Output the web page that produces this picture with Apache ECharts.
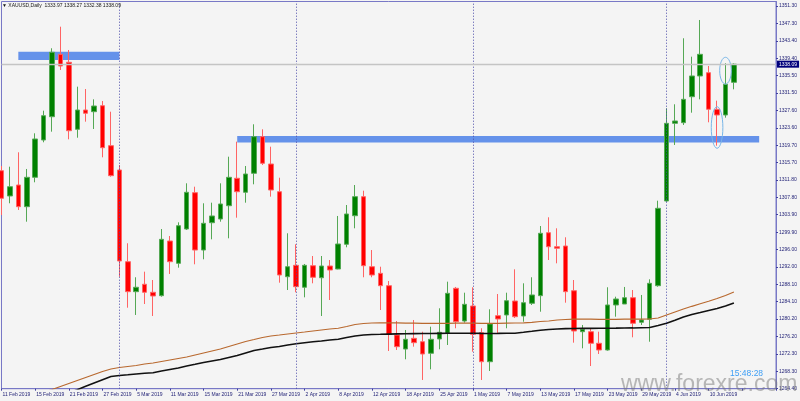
<!DOCTYPE html>
<html><head><meta charset="utf-8">
<script src="https://cdn.jsdelivr.net/npm/echarts@6/dist/echarts.min.js"></script>
<style>html,body{margin:0;padding:0;background:#f4f4f4}#c{width:800px;height:401px}</style>
</head><body><div id="c"></div>
<script>
// ---------- data ----------
const dates = [
'11 Feb 2019','12 Feb 2019','13 Feb 2019','14 Feb 2019','15 Feb 2019',
'18 Feb 2019','19 Feb 2019','20 Feb 2019','21 Feb 2019','22 Feb 2019',
'25 Feb 2019','26 Feb 2019','27 Feb 2019','28 Feb 2019','1 Mar 2019',
'4 Mar 2019','5 Mar 2019','6 Mar 2019','7 Mar 2019','8 Mar 2019',
'11 Mar 2019','12 Mar 2019','13 Mar 2019','14 Mar 2019','15 Mar 2019',
'18 Mar 2019','19 Mar 2019','20 Mar 2019','21 Mar 2019','22 Mar 2019',
'25 Mar 2019','26 Mar 2019','27 Mar 2019','28 Mar 2019','29 Mar 2019',
'1 Apr 2019','2 Apr 2019','3 Apr 2019','4 Apr 2019','5 Apr 2019',
'8 Apr 2019','9 Apr 2019','10 Apr 2019','11 Apr 2019','12 Apr 2019',
'15 Apr 2019','16 Apr 2019','17 Apr 2019','18 Apr 2019',
'22 Apr 2019','23 Apr 2019','24 Apr 2019','25 Apr 2019','26 Apr 2019',
'29 Apr 2019','30 Apr 2019','1 May 2019','2 May 2019','3 May 2019',
'6 May 2019','7 May 2019','8 May 2019','9 May 2019','10 May 2019',
'13 May 2019','14 May 2019','15 May 2019','16 May 2019','17 May 2019',
'20 May 2019','21 May 2019','22 May 2019','23 May 2019','24 May 2019',
'27 May 2019','28 May 2019','29 May 2019','30 May 2019','31 May 2019',
'3 Jun 2019','4 Jun 2019','5 Jun 2019','6 Jun 2019','7 Jun 2019',
'10 Jun 2019','11 Jun 2019','12 Jun 2019','13 Jun 2019'];
const futureSlots = ['', '', '', '', ''];

const opens = [1313.90,1308.16,1310.65,1305.73,1312.40,1320.87,1326.16,1340.33,1338.52,1323.30,
1327.68,1327.30,1328.66,1319.58,1314.06,1293.24,1286.43,1288.11,1286.29,1285.52,
1297.94,1292.87,1300.66,1308.91,1295.89,1302.09,1302.93,1305.95,1312.18,1309.00,
1313.31,1321.62,1315.42,1309.13,1289.83,1292.42,1287.43,1292.33,1289.60,1292.26,
1291.58,1297.19,1303.68,1308.00,1292.10,1290.60,1287.79,1276.59,1273.41,1275.84,
1275.07,1272.44,1275.69,1276.98,1287.20,1279.77,1283.18,1277.12,1270.53,1280.98,
1281.14,1284.31,1280.91,1283.79,1285.52,1299.82,1296.64,1296.80,1286.65,1277.34,
1277.34,1274.71,1273.19,1283.41,1283.63,1285.06,1279.48,1280.16,1287.79,1307.02,
1324.66,1324.80,1330.70,1335.41,1336.15,1327.84,1326.55,1333.97];
const closes = [1307.63,1310.27,1305.73,1312.40,1321.10,1326.39,1340.79,1337.68,1322.98,1327.68,
1326.94,1328.59,1319.12,1312.77,1293.40,1286.43,1287.43,1286.29,1285.45,1298.32,
1293.24,1301.41,1309.00,1295.89,1301.96,1303.62,1306.34,1312.40,1309.13,1313.15,
1321.62,1315.58,1309.52,1290.22,1292.10,1287.56,1292.42,1289.70,1292.26,1291.35,
1297.26,1304.07,1308.00,1292.33,1290.22,1287.79,1276.75,1273.94,1275.62,1274.85,
1272.28,1275.62,1277.21,1286.06,1279.61,1283.56,1276.75,1270.53,1279.09,1280.23,
1284.38,1280.75,1283.93,1285.68,1299.69,1296.64,1296.28,1286.43,1277.50,1277.89,
1274.71,1273.19,1283.41,1284.77,1285.06,1279.25,1280.00,1288.33,1305.36,1324.66,
1325.19,1330.11,1335.41,1340.33,1327.84,1326.55,1333.52,1338.09];
const lows = [1303.84,1306.50,1304.98,1302.32,1311.27,1320.35,1322.76,1336.77,1321.03,1321.39,
1325.03,1323.37,1316.94,1312.54,1289.83,1282.79,1281.14,1283.63,1280.91,1285.29,
1290.45,1291.88,1300.44,1292.65,1293.78,1298.32,1302.32,1298.55,1303.23,1306.64,
1310.81,1315.20,1308.00,1288.47,1286.81,1286.29,1285.15,1288.33,1280.91,1284.54,
1291.51,1296.51,1300.82,1289.70,1289.70,1282.27,1272.96,1273.19,1271.08,1273.94,
1266.38,1268.80,1273.35,1274.32,1278.12,1279.39,1272.80,1266.38,1268.42,1276.98,
1278.12,1280.45,1279.61,1283.41,1281.88,1293.62,1292.87,1283.93,1274.85,1273.57,
1269.55,1272.28,1273.03,1280.75,1283.63,1276.07,1278.87,1275.07,1287.56,1306.86,
1319.74,1324.28,1327.07,1330.11,1324.89,1319.58,1325.94,1332.38];
const highs = [1314.97,1314.81,1318.08,1314.29,1322.39,1327.53,1341.70,1346.60,1341.31,1332.98,
1332.45,1330.11,1329.73,1327.30,1315.20,1297.42,1289.70,1290.97,1289.08,1300.66,
1299.07,1302.18,1311.04,1310.27,1306.50,1306.64,1311.04,1317.08,1320.49,1314.97,
1324.44,1323.30,1319.35,1312.31,1299.69,1297.19,1292.72,1294.53,1294.53,1293.62,
1303.62,1306.11,1310.65,1309.36,1295.89,1292.10,1288.86,1279.77,1277.73,1280.00,
1277.34,1278.48,1282.66,1288.70,1287.50,1286.20,1287.43,1278.12,1282.43,1285.90,
1286.20,1291.51,1288.33,1289.70,1301.34,1303.32,1300.82,1298.78,1289.08,1278.87,
1278.12,1277.34,1287.43,1285.29,1287.50,1286.81,1285.68,1289.24,1307.09,1328.07,
1328.98,1343.97,1339.79,1348.12,1337.68,1329.80,1338.29,1338.27];

const maBrown = [1260.25,1260.93,1261.61,1262.29,1262.90,1263.58,1264.22,1264.90,1265.58,1266.26,
1266.94,1267.62,1268.31,1268.87,1269.21,1269.44,1269.67,1270.01,1270.24,1270.58,
1270.92,1271.26,1271.60,1272.05,1272.51,1272.96,1273.41,1273.98,1274.55,1275.12,
1275.57,1276.03,1276.37,1276.59,1276.82,1277.05,1277.27,1277.50,1277.73,1277.96,
1278.12,1278.52,1278.98,1279.21,1279.32,1279.36,1279.38,1279.35,1279.30,1279.28,
1279.25,1279.22,1279.22,1279.25,1279.30,1279.32,1279.30,1279.25,1279.22,1279.25,
1279.30,1279.32,1279.36,1279.48,1279.66,1279.77,1280.00,1280.11,1280.18,1280.20,
1280.18,1280.16,1280.15,1280.16,1280.18,1280.20,1280.22,1280.23,1280.45,1281.14,
1281.82,1282.50,1283.11,1283.68,1284.25,1284.88,1285.56,1286.36];
const maBlack = [1257.29,1258.07,1258.88,1259.65,1260.40,1261.15,1261.93,1262.74,1263.42,1264.17,
1264.94,1265.69,1266.44,1267.17,1267.40,1267.56,1267.74,1267.90,1268.03,1268.42,
1268.76,1269.10,1269.55,1269.94,1270.35,1270.69,1271.03,1271.49,1271.94,1272.51,
1273.07,1273.41,1273.76,1273.98,1274.32,1274.62,1274.85,1275.05,1275.23,1275.46,
1275.62,1276.03,1276.37,1276.59,1276.71,1276.75,1276.80,1276.85,1276.88,1276.90,
1276.92,1276.94,1276.96,1276.98,1277.00,1277.00,1276.98,1276.96,1276.95,1276.96,
1276.98,1277.00,1277.21,1277.43,1277.66,1277.84,1277.96,1278.05,1278.08,1278.10,
1278.10,1278.12,1278.14,1278.15,1278.18,1278.20,1278.25,1278.30,1278.75,1279.25,
1279.93,1280.68,1281.25,1281.70,1282.16,1282.61,1283.18,1283.86];

// horizontal zones drawn on the chart: [start index, end index, top price, bottom price]
const zoneStart = [2, 28];
const zoneEnd = [14, 90];
const zoneTop = [1340.92, 1321.78];
const zoneBottom = [1339.04, 1320.30];
// ellipse annotations: [index, top price, bottom price]
const ellipseIdx = [85, 86];
const ellipseTop = [1328.43, 1339.65];
const ellipseBottom = [1318.99, 1333.59];

const monthSeparators = ['1 Mar 2019', '1 Apr 2019', '1 May 2019', '3 Jun 2019'];
const titleSymbol = 'XAUUSD,Daily';
const titleValues = ['1333.97', '1338.27', '1332.38', '1338.09'];
const bidPrice = 1338.09;
const yMin = 1264.40, yMax = 1352.32, yStep = 3.95;
const timerText = '15:48:28';
const watermark = 'www.forexre.com';

// ---------- chart ----------
const FONT = '"Liberation Sans", Arial, sans-serif';
const AXIS_COL = '#7878c6';
const LABEL_COL = '#1e1e74';
const cats = dates.concat(futureSlots);
const candleData = dates.map((d, i) => [opens[i], closes[i], lows[i], highs[i]]);

const chart = echarts.init(document.getElementById('c'), null, {renderer: 'canvas'});
const option = {
  backgroundColor: '#f4f4f4',
  animation: false,
  title: {
    text: '\u25BC ' + titleSymbol + '  ' + titleValues.join(' '),
    left: 2, top: 3, padding: 0,
    textStyle: {fontSize: 5, fontWeight: 'normal', color: '#151515', fontFamily: FONT}
  },
  grid: {
    left: 1.5, top: 1.5, right: 24, bottom: 12.3,
    outerBoundsMode: 'none',
    show: true, borderColor: AXIS_COL, borderWidth: 1, backgroundColor: 'transparent'
  },
  xAxis: {
    type: 'category', data: cats, boundaryGap: false,
    axisLine: {show: true, lineStyle: {color: AXIS_COL, width: 1}},
    axisTick: {show: true, interval: 3, length: 2, lineStyle: {color: '#4040a0'}},
    axisLabel: {interval: 3, align: 'left', fontSize: 5, color: LABEL_COL, margin: 3.5, fontFamily: FONT, padding: [0, 0, 0, 1]},
    splitLine: {show: false}
  },
  yAxis: {
    type: 'value', position: 'right', min: yMin, max: yMax, interval: yStep,
    axisLine: {show: true, lineStyle: {color: AXIS_COL, width: 1}},
    axisTick: {show: true, length: 2, lineStyle: {color: '#4040a0'}},
    axisLabel: {
      fontSize: 5, color: LABEL_COL, margin: 3, fontFamily: FONT, showMaxLabel: false,
      formatter: v => (Math.floor(v * 10 + 1e-6) / 10).toFixed(2)
    },
    splitLine: {show: false}
  },
  graphic: [
    {type: 'text', left: 621, top: 373.5, z: 100, silent: true,
     style: {text: watermark, font: '23px "Liberation Sans", Arial', fill: 'rgba(120,120,120,0.5)'}},
    {type: 'text', left: 730, top: 369.5, z: 100, silent: true,
     style: {text: timerText, font: '8.5px "Liberation Sans", Arial', fill: '#3f9ff5'}}
  ],
  series: [
    {
      name: 'objects', type: 'line', data: [], z: 1, silent: true,
      markArea: {
        silent: true,
        itemStyle: {color: '#6592ea', opacity: 1},
        data: zoneStart.map((s, i) => [
          {xAxis: s, yAxis: zoneTop[i]},
          {xAxis: zoneEnd[i], yAxis: zoneBottom[i]}
        ])
      },
      markLine: {
        silent: true, symbol: ['none', 'none'], animation: false,
        data: monthSeparators.map(m => ({
          xAxis: m,
          lineStyle: {color: '#4a4aa8', type: [1, 2], width: 1},
          label: {show: false}
        })).concat([{
          yAxis: bidPrice,
          lineStyle: {color: '#c4c4c4', type: 'solid', width: 1.3},
          label: {
            show: true, position: 'end', formatter: bidPrice.toFixed(2), distance: 1,
            color: '#ffffff', backgroundColor: '#00007c', fontSize: 5, fontFamily: FONT,
            padding: [1, 2, 1, 2]
          }
        }])
      }
    },
    {
      name: 'XAUUSD', type: 'candlestick', data: candleData, z: 2, clip: false,
      barWidth: 5,
      itemStyle: {
        color: '#008000', color0: '#ff0000',
        borderColor: '#55a855', borderColor0: '#ff6464', borderWidth: 1
      }
    },
    {
      name: 'MA slow', type: 'line', data: maBrown, z: 3, symbol: 'none', silent: true,
      lineStyle: {color: '#b8682e', width: 1.2}
    },
    {
      name: 'MA fast', type: 'line', data: maBlack, z: 3, symbol: 'none', silent: true,
      lineStyle: {color: '#111111', width: 1.6}
    },
    {
      name: 'marks', type: 'custom', z: 4, silent: true,
      data: ellipseIdx.map((x, i) => [x, ellipseTop[i], ellipseBottom[i]]),
      encode: {x: 0, y: [1, 2]},
      renderItem: (params, api) => {
        const t = api.coord([api.value(0), api.value(1)]);
        const b = api.coord([api.value(0), api.value(2)]);
        return {
          type: 'ellipse',
          shape: {cx: t[0], cy: (t[1] + b[1]) / 2, rx: 5.8, ry: (b[1] - t[1]) / 2},
          style: {fill: 'none', stroke: '#78b6e8', lineWidth: 1}
        };
      }
    }
  ]
};
chart.setOption(option);
</script>
</body></html>
